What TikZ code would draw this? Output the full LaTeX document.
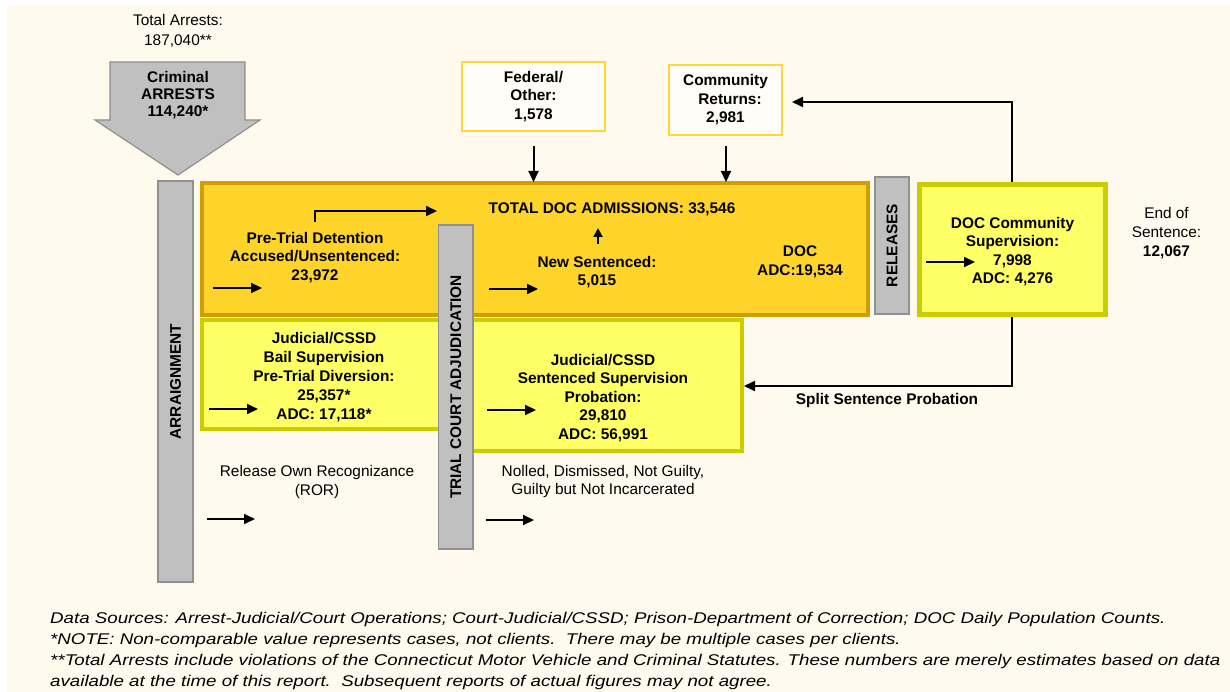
\documentclass[tikz,border=0pt]{standalone}
\usepackage{fontspec}
\usepackage{graphicx}
\setmainfont{Liberation Sans}
\usetikzlibrary{arrows.meta}
\definecolor{bgc}{HTML}{FFF9EE}
\definecolor{docfill}{HTML}{FFD42A}
\definecolor{docline}{HTML}{D09E00}
\definecolor{yfill}{HTML}{FFFF66}
\definecolor{yline}{HTML}{CCCC00}
\definecolor{barfill}{HTML}{C0C0C0}
\definecolor{barline}{HTML}{909090}
\definecolor{smline}{HTML}{FFD633}
\definecolor{smfill}{HTML}{FFFDF7}
\newcommand{\fsz}[1]{\fontsize{15.4}{#1}\selectfont}
\newcommand{\footx}[1]{\scalebox{1.207}[1]{#1}}
\begin{document}
\begin{tikzpicture}[x=1pt,y=-1pt,
  txt/.style={font=\fsz{18.5}\bfseries, align=center, inner sep=0pt},
  rtxt/.style={font=\fsz{18.5}, align=center, inner sep=0pt},
  foot/.style={font=\fontsize{15.5}{18}\selectfont\itshape, anchor=west, inner sep=0pt},
  docbox/.style={draw=docline, fill=docfill, line width=4pt, inner sep=0pt},
  ybox/.style={draw=yline, fill=yfill, line width=4pt, inner sep=0pt},
  smbox/.style={draw=smline, fill=smfill, line width=2.5pt, inner sep=0pt, font=\fsz{18.5}\bfseries, align=center},
  bar/.style={draw=barline, fill=barfill, line width=1.5pt, inner sep=0pt, rotate=90, font=\fsz{18.5}\bfseries},
  arr/.style={line width=2pt, -{Triangle[length=11pt,width=10pt]}},
  sarr/.style={line width=2pt, -{Triangle[length=9pt,width=9pt]}}
]
\useasboundingbox (0,0) rectangle (1230,692);
\fill[bgc] (7,5) rectangle (1230,692);

% top label and big arrow
\node[rtxt, font=\fsz{20.5}] (tot) at (178,31) {Total Arrests:\\187,040**};
\draw[draw=barline, fill=barfill, line width=1.2pt]
  (110,62) -- (245,62) -- (245,120) -- (260,120) -- (178,175) -- (95,120) -- (110,120) -- cycle;
\node[txt, font=\fsz{17}\bfseries] (crim) at (178,95) {Criminal\\ARRESTS\\114,240*};

% main boxes
\node[docbox, minimum width=666pt, minimum height=132pt] (doc) at (535,249) {};
\node[ybox, minimum width=243pt, minimum height=109pt] (bail) at (323.5,374.5) {};
\node[ybox, minimum width=280pt, minimum height=131pt] (sent) at (602,385.5) {};
\node[ybox, line width=5pt, minimum width=186pt, minimum height=130pt] (dcs) at (1012.5,249.5) {};

% bars
\node[bar, minimum width=401pt, minimum height=35pt] (arraign) at (175.5,381.5) {ARRAIGNMENT};
\node[bar, minimum width=324pt, minimum height=34.5pt] (trial) at (455.75,387) {TRIAL COURT ADJUDICATION};
\node[bar, minimum width=137pt, minimum height=34pt] (rel) at (892,245.5) {RELEASES};

% small top boxes
\node[smbox, minimum width=143pt, minimum height=69pt] (fed) at (533.5,96.5) {Federal/\\Other:\\1,578};
\node[smbox, minimum width=113pt, minimum height=70pt] (com) at (725.5,100) {Community\\\hspace*{9pt}Returns:\\2,981};

% texts inside boxes
\node[txt] (pre) at (315,257.5) {Pre-Trial Detention\\Accused/Unsentenced:\\23,972};
\node[txt] (adm) at (612,209) {TOTAL DOC ADMISSIONS: 33,546};
\node[txt] (news) at (597,272) {New Sentenced:\\5,015};
\node[txt] (docadc) at (800,262) {DOC\\ADC:19,534};
\node[txt, font=\fsz{19}\bfseries] (bailt) at (324,377) {Judicial/CSSD\\Bail Supervision\\Pre-Trial Diversion:\\25,357*\\ADC: 17,118*};
\node[txt] (sentt) at (603,398) {Judicial/CSSD\\Sentenced Supervision\\Probation:\\29,810\\ADC: 56,991};
\node[txt] (dcst) at (1012.5,251.5) {DOC Community\\Supervision:\\7,998\\ADC: 4,276};
\node[rtxt, font=\fsz{19}] (endt) at (1166.5,233) {End of\\Sentence:\\\textbf{12,067}};
\node[rtxt, font=\fsz{19}] (ror) at (317,482.5) {Release Own Recognizance\\(ROR)};
\node[rtxt, font=\fsz{17.5}] (noll) at (603,481.5) {Nolled, Dismissed, Not Guilty,\\Guilty but Not Incarcerated};
\node[txt] (split) at (887,401) {Split Sentence Probation};

% arrow end points
\coordinate (a1s) at (213,288); \coordinate (a1e) at (262,288);
\coordinate (a2s) at (315,222); \coordinate (a2m) at (315,211); \coordinate (a2e) at (437,211);
\coordinate (a3s) at (489,289); \coordinate (a3e) at (538,289);
\coordinate (a4s) at (598,244); \coordinate (a4e) at (598,228);
\coordinate (a5s) at (533.5,146); \coordinate (a5e) at (533.5,182);
\coordinate (a6s) at (726,146); \coordinate (a6e) at (726,182);
\coordinate (a7m) at (1012,102); \coordinate (a7e) at (792,102);
\coordinate (a8m) at (1012,386); \coordinate (a8e) at (744,386);
\coordinate (a9s) at (926,262); \coordinate (a9e) at (975,262);
\coordinate (a10s) at (209,409); \coordinate (a10e) at (258,409);
\coordinate (a11s) at (487,410); \coordinate (a11e) at (536,410);
\coordinate (a12s) at (207,519); \coordinate (a12e) at (255,519);
\coordinate (a13s) at (486,520); \coordinate (a13e) at (534,520);

\draw[arr] (a1s) -- (a1e);
\draw[arr] (a2s) -- (a2m) -- (a2e);
\draw[arr] (a3s) -- (a3e);
\draw[sarr] (a4s) -- (a4e);
\draw[arr] (a5s) -- (a5e);
\draw[arr] (a6s) -- (a6e);
\draw[arr] (dcs.north -| a7m) -- (a7m) -- (a7e);
\draw[arr] (dcs.south -| a8m) -- (a8m) -- (a8e);
\draw[arr] (a9s) -- (a9e);
\draw[arr] (a10s) -- (a10e);
\draw[arr] (a11s) -- (a11e);
\draw[arr] (a12s) -- (a12e);
\draw[arr] (a13s) -- (a13e);

% footnotes
\node[foot] (f1) at (50,619) {\footx{Data Sources: Arrest-Judicial/Court Operations; Court-Judicial/CSSD; Prison-Department of Correction; DOC Daily Population Counts.}};
\node[foot] (f2) at (50,640) {\footx{*NOTE: Non-comparable value represents cases, not clients.\ \ There may be multiple cases per clients.}};
\node[foot] (f3) at (50,661) {\footx{**Total Arrests include violations of the Connecticut Motor Vehicle and Criminal Statutes. These numbers are merely estimates based on data}};
\node[foot] (f4) at (50,682) {\footx{available at the time of this report.\ \ Subsequent reports of actual figures may not agree.}};
\end{tikzpicture}
\end{document}
